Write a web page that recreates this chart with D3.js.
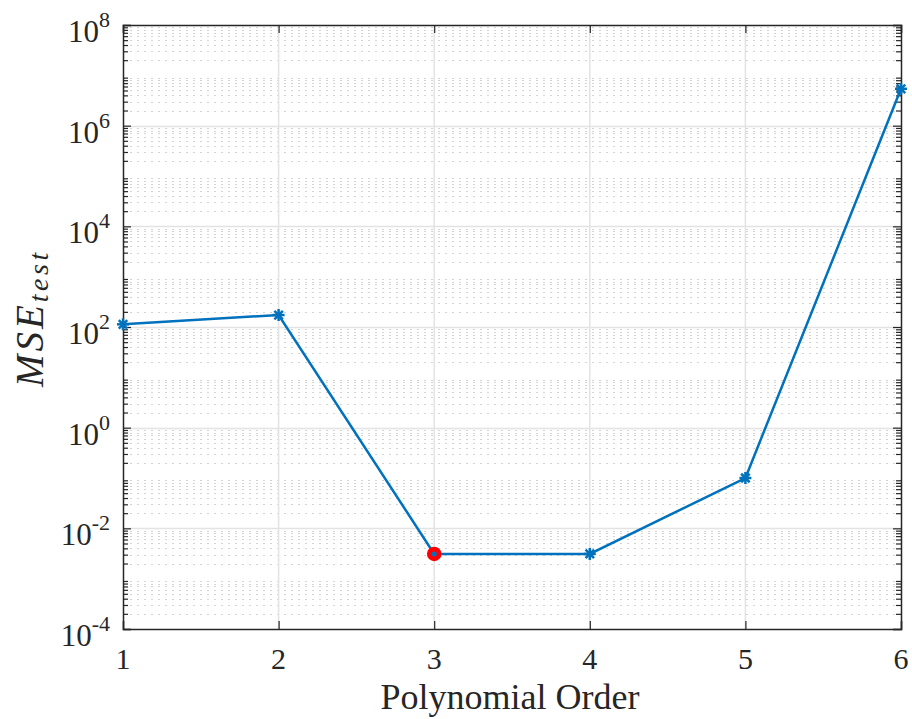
<!DOCTYPE html>
<html>
<head>
<meta charset="utf-8">
<script src="https://cdn.jsdelivr.net/npm/d3@7"></script>
<style>
  body { margin: 0; background: #fff; }
</style>
</head>
<body>
<script>
// data
var orders = [1, 2, 3, 4, 5, 6];
var mseTest = [113, 173, 0.0031, 0.0031, 0.1, 5.4e6];
var bestOrder = 3;
var xTicks = [1, 2, 3, 4, 5, 6];
var yExps = [-4, -2, 0, 2, 4, 6, 8];

var width = 912, height = 719;
var m = {left: 123, right: 11, top: 25, bottom: 90};
var iw = width - m.left - m.right, ih = height - m.top - m.bottom;
var serif = "Liberation Serif";
var ink = "#262626";

var svg = d3.select("body").append("svg")
  .attr("width", width).attr("height", height);

var x = d3.scaleLinear().domain([1, 6]).range([0, iw]);
var y = d3.scaleLog().domain([1e-4, 1e8]).range([ih, 0]);

var g = svg.append("g").attr("transform", "translate(" + m.left + "," + m.top + ")");

// minor log grid (dotted)
var minors = [];
for (var e = -4; e < 8; e++) {
  for (var k = 2; k <= 9; k++) minors.push(k * Math.pow(10, e));
}
g.append("g").selectAll("line").data(minors).enter().append("line")
  .attr("x1", 0).attr("x2", iw)
  .attr("y1", function(d){ return Math.round(y(d)) + 0.5; })
  .attr("y2", function(d){ return Math.round(y(d)) + 0.5; })
  .attr("stroke", "#d4d4d4").attr("stroke-width", 1)
  .attr("stroke-dasharray", "2,5");

// major grid
g.append("g").selectAll("line").data(yExps.slice(1, -1)).enter().append("line")
  .attr("x1", 0).attr("x2", iw)
  .attr("y1", function(d){ return Math.round(y(Math.pow(10, d))) + 0.5; })
  .attr("y2", function(d){ return Math.round(y(Math.pow(10, d))) + 0.5; })
  .attr("stroke", "#e3e3e3").attr("stroke-width", 1.5);
g.append("g").selectAll("line").data(xTicks.slice(1, -1)).enter().append("line")
  .attr("x1", function(d){ return x(d); }).attr("x2", function(d){ return x(d); })
  .attr("y1", 0).attr("y2", ih)
  .attr("stroke", "#e3e3e3").attr("stroke-width", 1.5);

// axes with inward ticks
var axB = d3.axisBottom(x).tickValues(xTicks).tickSize(-8).tickFormat("");
var axT = d3.axisTop(x).tickValues(xTicks).tickSize(-8).tickFormat("");
var yMaj = yExps.map(function(d){ return Math.pow(10, d); });
var axL = d3.axisLeft(y).tickValues(yMaj).tickSize(-8).tickFormat("");
var axR = d3.axisRight(y).tickValues(yMaj).tickSize(-8).tickFormat("");
var axLm = d3.axisLeft(y).tickValues(minors).tickSize(-5).tickFormat("");
var axRm = d3.axisRight(y).tickValues(minors).tickSize(-5).tickFormat("");

function styleAx(sel) {
  sel.selectAll("path").attr("stroke", ink).attr("stroke-width", 1.5);
  sel.selectAll("line").attr("stroke", ink).attr("stroke-width", 1.2);
}
g.append("g").attr("transform", "translate(0," + ih + ")").call(axB).call(styleAx);
g.append("g").call(axT).call(styleAx);
g.append("g").call(axL).call(styleAx);
g.append("g").attr("transform", "translate(" + iw + ",0)").call(axR).call(styleAx);
g.append("g").call(axLm).call(styleAx).select("path").remove();
g.append("g").attr("transform", "translate(" + iw + ",0)").call(axRm).call(styleAx).select("path").remove();

// tick labels
g.selectAll(".xl").data(xTicks).enter().append("text")
  .attr("x", function(d){ return x(d); }).attr("y", ih + 40)
  .attr("text-anchor", "middle").attr("font-size", 30)
  .attr("font-family", serif).attr("fill", ink)
  .text(function(d){ return d; });

var yl = g.selectAll(".yl").data(yExps).enter().append("text")
  .attr("x", -13).attr("y", function(d){ return y(Math.pow(10, d)) + 17; })
  .attr("text-anchor", "end").attr("font-size", 31)
  .attr("font-family", serif).attr("fill", ink);
yl.append("tspan").text("10");
yl.append("tspan").attr("dy", -15).attr("font-size", 22).text(function(d){ return d; });

// axis titles
svg.append("text")
  .attr("x", m.left + iw / 2 - 2).attr("y", 709)
  .attr("text-anchor", "middle").attr("font-size", 36)
  .attr("font-family", serif).attr("fill", ink)
  .text("Polynomial Order");

var yt = svg.append("text")
  .attr("transform", "translate(43,387) rotate(-90)")
  .attr("text-anchor", "start").attr("font-size", 39).attr("font-style", "italic")
  .attr("font-family", serif).attr("fill", ink);
yt.append("tspan").attr("letter-spacing", 3).text("MSE");
yt.append("tspan").attr("dy", 5).attr("font-size", 28).attr("letter-spacing", 3.5).text("test");

// data line
var pts = orders.map(function(d, i){ return [d, mseTest[i]]; });
var line = d3.line().x(function(d){ return x(d[0]); }).y(function(d){ return y(d[1]); });
g.append("path").datum(pts).attr("d", line)
  .attr("fill", "none").attr("stroke", "#0072BD").attr("stroke-width", 2.5);

// best point
var bi = orders.indexOf(bestOrder);
g.append("circle").attr("cx", x(bestOrder)).attr("cy", y(mseTest[bi]))
  .attr("r", 6.5).attr("fill", "#ff0000").attr("stroke", "#ff0000").attr("stroke-width", 1.5);

// asterisk markers
var star = g.selectAll(".mk").data(pts).enter().append("g")
  .attr("transform", function(d){ return "translate(" + x(d[0]) + "," + y(d[1]) + ")"; });
[0, 45, 90, 135].forEach(function(a){
  star.append("line").attr("x1", -6).attr("x2", 6).attr("y1", 0).attr("y2", 0)
    .attr("transform", "rotate(" + a + ")")
    .attr("stroke", "#0072BD").attr("stroke-width", 2.5);
});
star.filter(function(d){ return d[0] === bestOrder; }).selectAll("line").remove();
star.filter(function(d){ return d[0] === bestOrder; }).append("circle")
  .attr("r", 2.5).attr("fill", "#0072BD");
</script>
</body>
</html>
